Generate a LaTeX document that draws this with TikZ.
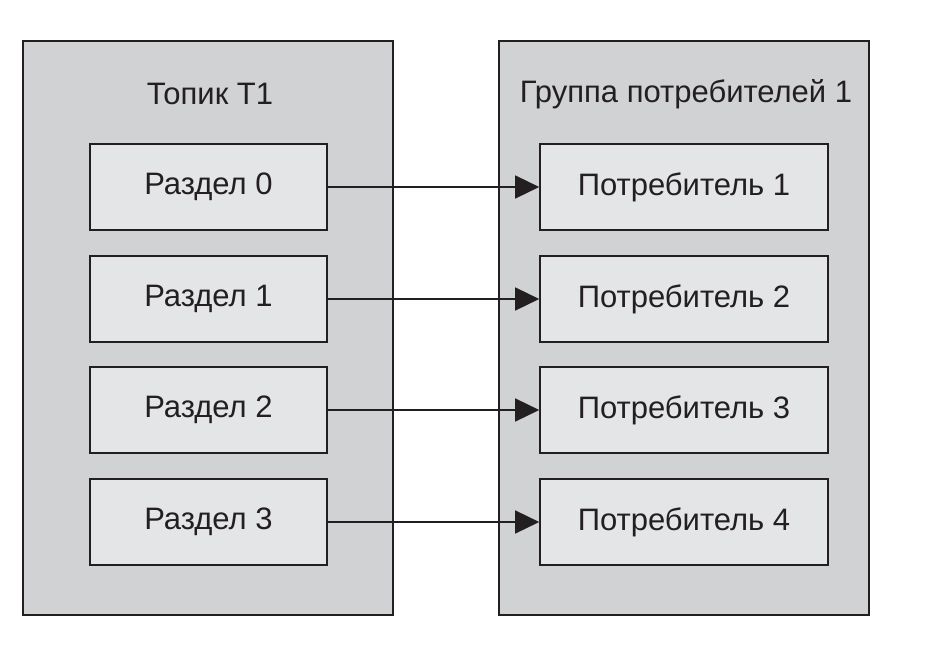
\documentclass[tikz,border=0pt]{standalone}
\usepackage{fontspec}
\setmainfont{Liberation Sans}
\usetikzlibrary{arrows.meta}
\definecolor{outerfill}{HTML}{D1D2D4}
\definecolor{innerfill}{HTML}{E4E5E6}
\definecolor{linec}{HTML}{231F20}
\begin{document}
\begin{tikzpicture}[x=1pt,y=-1pt,
  outerbox/.style={draw=linec,fill=outerfill,line width=1.6pt},
  innerbox/.style={draw=linec,fill=innerfill,line width=1.6pt,minimum width=237pt,minimum height=86pt,inner sep=0pt,
    font=\fontsize{31}{36}\selectfont,text=linec},
  consbox/.style={innerbox,minimum width=288pt},
  title/.style={font=\fontsize{31}{36}\selectfont,text=linec},
  conn/.style={draw=linec,line width=1.4pt,-{Triangle[length=24pt,width=23pt]}}]
\useasboundingbox (0,0) rectangle (938,650);
\filldraw[outerbox] (23,41) rectangle (393,615);
\filldraw[outerbox] (499,41) rectangle (869,615);
\node[title] (t1) at (210,94) {Топик T1};
\node[title] (g1) at (686,94) {Группа потребителей 1};
\foreach \i/\y in {0/187,1/299,2/410,3/522}{
  \node[innerbox] (p\i) at (208.5,\y) {Раздел \i};
}
\foreach \i/\y in {1/187,2/299,3/410,4/522}{
  \node[consbox] (c\i) at (684,\y) {Потребитель \i};
}
\draw[conn] (p0) -- (c1);
\draw[conn] (p1) -- (c2);
\draw[conn] (p2) -- (c3);
\draw[conn] (p3) -- (c4);
\end{tikzpicture}
\end{document}
